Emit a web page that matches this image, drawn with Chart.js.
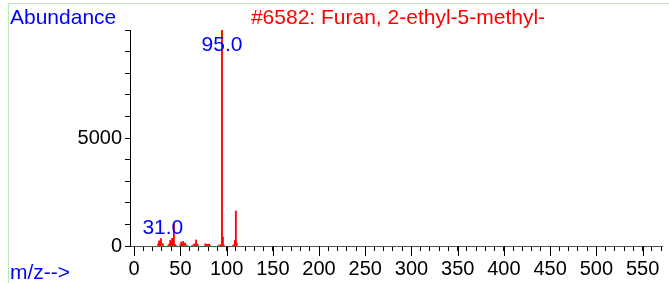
<!DOCTYPE html>
<html>
<head>
<meta charset="utf-8">
<script src="https://cdn.jsdelivr.net/npm/chart.js@4.4.1/dist/chart.umd.min.js"></script>
<style>
  html, body { margin: 0; padding: 0; background: #fff; }
  #wrap { position: relative; width: 669px; height: 283px; overflow: hidden; }
  #frame { position: absolute; left: 8px; top: 3px; width: 700px; height: 300px;
           border-left: 1px solid #b4f0b4; border-top: 1px solid #b4f0b4; }
  canvas { position: absolute; left: 0; top: 0; }
</style>
</head>
<body>
<div id="wrap">
  <div id="frame"></div>
  <canvas id="chartSpectrum" width="669" height="283"></canvas>
</div>
<script>
// spectrum peaks (m/z vs abundance)
const mzValues = [26, 27, 28, 29, 31, 37, 38, 39, 40, 41, 42, 43, 44, 45,
                  50, 51, 52, 53, 54, 55, 57, 63, 65, 66, 67, 68, 69,
                  77, 78, 79, 80, 81, 82, 91, 93, 94, 95, 96, 97,
                  107, 108, 109, 110, 111];
const abundance = [90, 240, 120, 340, 110, 50, 90, 260, 110, 360, 160, 1000, 70, 40,
                   80, 190, 70, 210, 50, 130, 40, 40, 100, 60, 280, 90, 50,
                   100, 40, 80, 60, 90, 40, 40, 50, 60, 9999, 420, 30,
                   40, 50, 260, 1620, 130];

// labelled peaks and the abundance level where each label sits
const peakLabels = [95.0, 31.0];
const peakLabelY = [9300, 830];

const xTickValues = [];
for (let v = 0; v <= 570; v += 10) xTickValues.push(v);
const xMajorStep = 50;
const yMajorTicks = [0, 5000];

const title = '#6582: Furan, 2-ethyl-5-methyl-';
const font = '"Liberation Sans", Arial, sans-serif';

const annotatePlugin = {
  id: 'annotate',
  afterDraw(chart) {
    const ctx = chart.ctx;
    const xs = chart.scales.x;
    const ys = chart.scales.y;
    ctx.save();

    // longer tick marks for labelled values
    ctx.strokeStyle = '#000';
    ctx.lineWidth = 1;
    xs.ticks.forEach(t => {
      if (t.value % xMajorStep === 0) {
        const px = Math.round(xs.getPixelForValue(t.value)) + 0.5;
        ctx.beginPath();
        ctx.moveTo(px, xs.top);
        ctx.lineTo(px, xs.top + 10);
        ctx.stroke();
      }
    });

    ctx.font = '21px ' + font;
    ctx.textBaseline = 'middle';

    ctx.fillStyle = '#0000ff';
    ctx.textAlign = 'left';
    ctx.fillText('Abundance', 10, 18);
    ctx.fillText('m/z-->', 10, 273);

    ctx.fillStyle = '#ff0000';
    ctx.textAlign = 'center';
    ctx.fillText(title, 398, 18);

    ctx.fillStyle = '#0000ff';
    peakLabels.forEach((mz, i) => {
      const px = xs.getPixelForValue(mz);
      const py = ys.getPixelForValue(peakLabelY[i]);
      ctx.fillText(mz.toFixed(1), px, py);
    });
    ctx.restore();
  }
};

new Chart(document.getElementById('chartSpectrum'), {
  type: 'bar',
  data: {
    datasets: [{
      data: mzValues.map((m, i) => ({ x: m, y: abundance[i] })),
      backgroundColor: '#ff0000',
      borderWidth: 0,
      barThickness: 1.2
    }]
  },
  options: {
    responsive: false,
    animation: false,
    layout: { padding: { left: 0, right: 7, top: 30, bottom: 0 } },
    plugins: { legend: { display: false }, tooltip: { enabled: false } },
    scales: {
      x: {
        type: 'linear',
        offset: false,
        min: -4.5,
        max: 571,
        afterFit: s => { s.height = 37; },
        afterBuildTicks: s => {
          s.ticks = xTickValues.map(v => ({ value: v }));
        },
        border: { display: true, color: '#555', width: 1 },
        grid: { display: true, drawOnChartArea: false, offset: false,
                tickLength: 5, tickColor: '#000', color: '#000' },
        ticks: {
          autoSkip: false,
          maxRotation: 0,
          padding: 6,
          color: '#000',
          font: { family: font, size: 20 },
          callback: v => (v % xMajorStep === 0 ? v : '')
        }
      },
      y: {
        min: 0,
        max: 10000,
        afterFit: s => { s.width = 130; },
        border: { display: true, color: '#000', width: 1 },
        grid: { display: true, drawOnChartArea: false, tickLength: 5,
                tickColor: '#000', color: '#000' },
        ticks: {
          stepSize: 1000,
          autoSkip: false,
          padding: 3,
          color: '#000',
          font: { family: font, size: 20 },
          callback: v => (yMajorTicks.includes(v) ? v : '')
        }
      }
    }
  },
  plugins: [annotatePlugin]
});
</script>
</body>
</html>
